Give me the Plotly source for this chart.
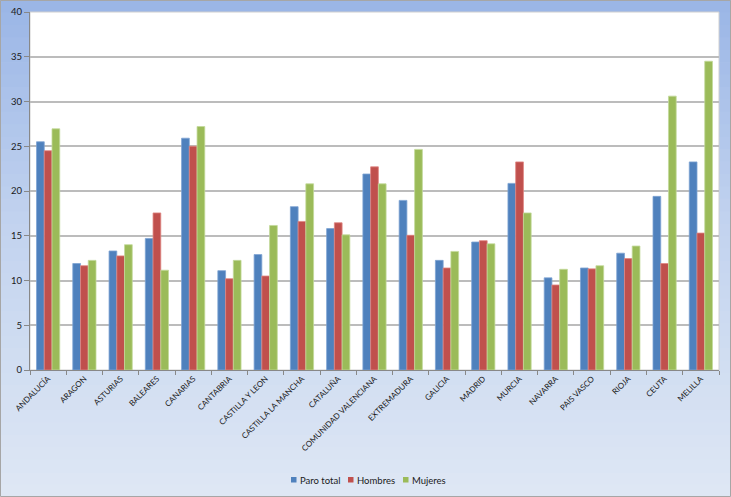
import plotly.graph_objects as go

regions = ["ANDALUCÍA", "ARAGON", "ASTURIAS", "BALEARES", "CANARIAS", "CANTABRIA",
           "CASTILLA Y LEON", "CASTILLA LA MANCHA", "CATALUÑA", "COMUNIDAD VALENCIANA",
           "EXTREMADURA", "GALICIA", "MADRID", "MURCIA", "NAVARRA", "PAIS VASCO",
           "RIOJA", "CEUTA", "MELILLA"]
paro_total = [25.5, 11.9, 13.3, 14.7, 25.9, 11.1, 12.9, 18.25, 15.8, 21.9,
              18.95, 12.25, 14.3, 20.85, 10.3, 11.4, 13.05, 19.4, 23.25]
hombres = [24.5, 11.65, 12.75, 17.55, 25.0, 10.2, 10.5, 16.6, 16.45, 22.7,
           15.05, 11.4, 14.45, 23.25, 9.5, 11.3, 12.45, 11.9, 15.3]
mujeres = [26.95, 12.25, 14.0, 11.15, 27.2, 12.25, 16.15, 20.8, 15.1, 20.8,
           24.65, 13.25, 14.1, 17.55, 11.25, 11.65, 13.85, 30.6, 34.5]
y_ticks = [0, 5, 10, 15, 20, 25, 30, 35, 40]
series_names = ["Paro total", "Hombres", "Mujeres"]

colors = ["#4f81bd", "#c0504d", "#9bbb59"]
edges = ["#7ea3d3", "#e08582", "#c3d99a"]
values = [paro_total, hombres, mujeres]

fig = go.Figure()
for name, vals, col, edge in zip(series_names, values, colors, edges):
    fig.add_trace(go.Bar(x=regions, y=vals, name=name, showlegend=False,
                         marker=dict(color=col, line=dict(color=edge, width=0.8))))

W, H = 731, 497
ml, mr, mt, mb = 30, 12, 12, 127
pw, ph = W - ml - mr, H - mt - mb
x0p, x1p = -ml / pw, 1 + mr / pw
y0p, y1p = -mb / ph, 1 + mt / ph

def px_x(px):
    return (px - ml) / pw

def px_y(py):
    return (H - mb - py) / ph

def lerp(c1, c2, t):
    return "#%02x%02x%02x" % tuple(int(round(a + (b - a) * t)) for a, b in zip(c1, c2))

top = (0x9b, 0xb6, 0xe6)
mid = (0xc2, 0xd3, 0xef)
bot = (0xde, 0xe7, 0xf4)
shapes = []
n = 40
for i in range(n):
    t = i / (n - 1)
    if t < 0.45:
        c = lerp(top, mid, t / 0.45)
    else:
        c = lerp(mid, bot, (t - 0.45) / 0.55)
    ya = y1p - (y1p - y0p) * i / n
    yb = y1p - (y1p - y0p) * (i + 1) / n
    shapes.append(dict(type="rect", xref="paper", yref="paper", x0=x0p, x1=x1p,
                       y0=yb - 0.002, y1=ya, fillcolor=c, line=dict(width=0), layer="below"))
# plot area white
shapes.append(dict(type="rect", xref="paper", yref="paper", x0=0, x1=1, y0=0, y1=1,
                   fillcolor="white", line=dict(color="#d0d0d0", width=1), layer="below"))
# outer border
shapes.append(dict(type="rect", xref="paper", yref="paper", x0=x0p + 0.5 / pw, x1=x1p - 0.5 / pw,
                   y0=y0p + 0.5 / ph, y1=y1p - 0.5 / ph,
                   fillcolor="rgba(0,0,0,0)", line=dict(color="#a6a6a6", width=1), layer="below"))

# custom legend (squares + text)
legend_sq_x = [291, 348, 403]
annotations = []
for name, col, sx in zip(series_names, colors, legend_sq_x):
    shapes.append(dict(type="rect", xref="paper", yref="paper",
                       x0=px_x(sx), x1=px_x(sx + 5.5), y0=px_y(482.5), y1=px_y(477),
                       fillcolor=col, line=dict(width=0), layer="above"))
    annotations.append(dict(xref="paper", yref="paper", x=px_x(sx + 6.5), y=px_y(480),
                            xanchor="left", yanchor="middle", text=name, showarrow=False,
                            font=dict(family="Lato, Open Sans, sans-serif", size=9.5,
                                      color="#1a1a1a")))

fig.update_layout(
    width=W, height=H,
    margin=dict(l=ml, r=mr, t=mt, b=mb, autoexpand=False),
    barmode="group", bargap=0.36, bargroupgap=0,
    paper_bgcolor="#c8d7ef", plot_bgcolor="white",
    shapes=shapes, annotations=annotations,
    font=dict(family="Lato, Open Sans, sans-serif", size=9, color="#222222"),
    xaxis=dict(tickangle=-45, tickfont=dict(size=8, color="#1a1a1a"), automargin=False,
               tickson="boundaries", ticks="outside", ticklen=4, tickcolor="#888888",
               showline=True, linecolor="#888888", linewidth=1, showgrid=False),
    yaxis=dict(range=[0, 40], tickvals=y_ticks, ticks="outside", ticklen=5, automargin=False,
               tickcolor="#888888", showline=True, linecolor="#888888", linewidth=1,
               gridcolor="#bcbcbc", gridwidth=2, tickfont=dict(size=9.5, color="#1a1a1a"),
               zeroline=False),
    showlegend=False,
)

fig.write_html("out.html")
